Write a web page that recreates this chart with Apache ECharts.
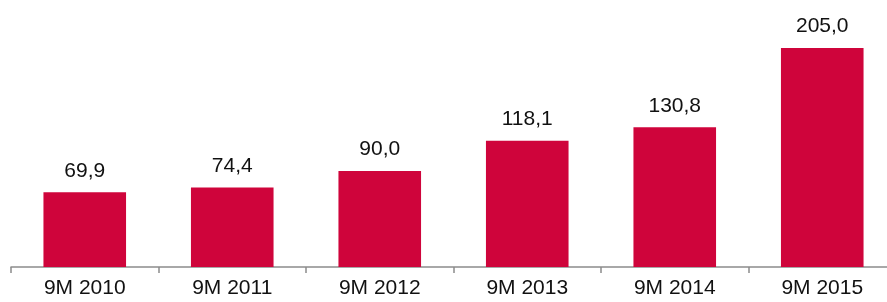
<!DOCTYPE html>
<html><head><meta charset="utf-8">
<script src="https://cdn.jsdelivr.net/npm/echarts@6/dist/echarts.min.js"></script>
<style>html,body{margin:0;padding:0;background:#fff;overflow:hidden;width:887px;height:302px}#c{width:896px;height:302px}</style>
</head><body><div id="c"></div>
<script>
const categories = ['9M 2010','9M 2011','9M 2012','9M 2013','9M 2014','9M 2015'];
const values = [69.9, 74.4, 90.0, 118.1, 130.8, 205.0];
const chart = echarts.init(document.getElementById('c'), null, {renderer:'canvas'});
chart.setOption({
  animation:false,
  grid:{left:11, right:0, top:0, bottom:35, containLabel:false},
  xAxis:{type:'category', data:categories,
    axisLine:{lineStyle:{color:'#8c8c8c', width:1.5}},
    axisTick:{show:true, length:6, lineStyle:{color:'#8c8c8c', width:1.5}},
    axisLabel:{color:'#111', fontSize:21, fontFamily:'Liberation Sans, Arial, sans-serif', margin:11}},
  yAxis:{type:'value', min:0, max:250, show:false, splitLine:{show:false}},
  series:[{type:'bar', data:values, barWidth:'56%',
    itemStyle:{color:'#CF043B'},
    label:{show:true, position:'top', distance:11, color:'#111', fontSize:21,
      fontFamily:'Liberation Sans, Arial, sans-serif',
      formatter:p=>p.value.toFixed(1).replace('.',',')}}]
});
</script></body></html>
